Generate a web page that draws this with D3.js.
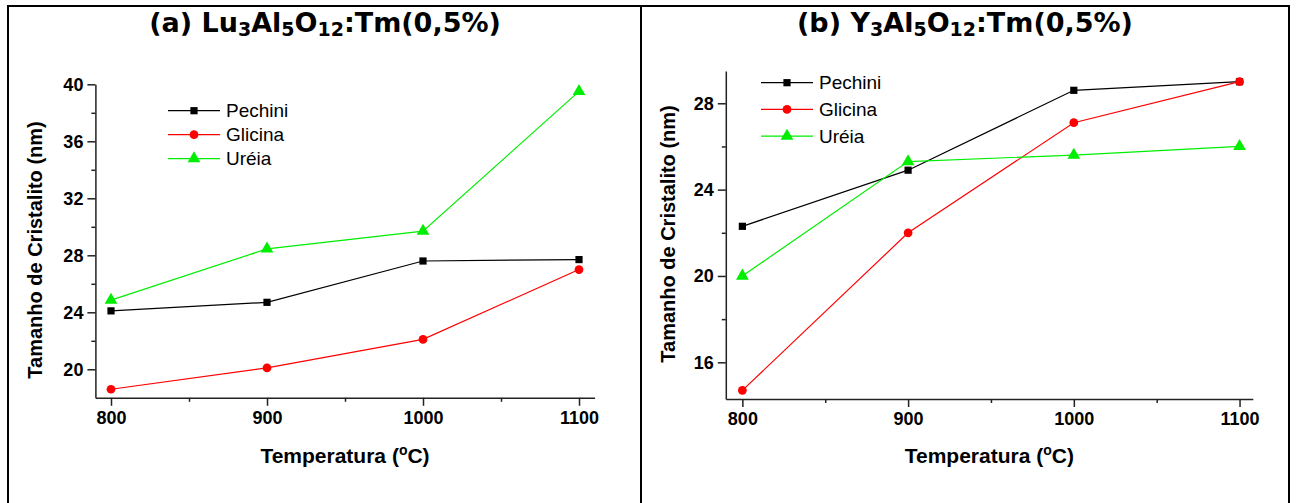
<!DOCTYPE html>
<html>
<head>
<meta charset="utf-8">
<script src="https://cdn.jsdelivr.net/npm/d3@7"></script>
<style>
  html, body { margin: 0; padding: 0; background: #fff; }
  svg { display: block; }
</style>
</head>
<body>
<svg id="chart" width="1296" height="503"></svg>
<script>
// ---------- data ----------
const temperatures = [800, 900, 1000, 1100];
const xTickValues = [800, 900, 1000, 1100];
const seriesNames = ["Pechini", "Glicina", "Uréia"];

// (a) Lu3Al5O12:Tm(0,5%)
const luPechini = [24.1, 24.7, 27.6, 27.7];
const luGlicina = [18.6, 20.1, 22.1, 27.0];
const luUreia   = [24.85, 28.45, 29.7, 39.5];
const luYTicks  = [20, 24, 28, 32, 36, 40];

// (b) Y3Al5O12:Tm(0,5%)
const yagPechini = [22.3, 24.9, 28.6, 29.0];
const yagGlicina = [14.7, 22.0, 27.1, 29.0];
const yagUreia   = [20.0, 25.3, 25.6, 26.0];
const yagYTicks  = [16, 20, 24, 28];

// ---------- styling ----------
const colors = ["#000000", "#ff0000", "#00ee00"];
const symbols = [d3.symbolSquare, d3.symbolCircle, d3.symbolTriangle];
const symbolSizes = [52, 60, 70];
const axisColor = "#222";
const svg = d3.select("#chart");

// outer frame
const frame = svg.append("g").attr("stroke", "#000").attr("stroke-width", 2).attr("fill", "none");
frame.append("path").attr("d", "M8,510 L8,6 L1289,6 L1289,510");
frame.append("path").attr("d", "M641,6 L641,510");

function panel(cfg) {
  const g = svg.append("g");
  const x = d3.scaleLinear().domain(cfg.xDomain).range(cfg.xRange);
  const y = d3.scaleLinear().domain(cfg.yDomain).range(cfg.yRange);

  // title with subscripts
  const t = g.append("text")
    .attr("x", cfg.titleX).attr("y", 32)
    .attr("text-anchor", "middle")
    .attr("font-family", "DejaVu Sans")
    .attr("font-weight", "bold")
    .attr("font-size", 27)
    .attr("fill", "#000");
  cfg.titleParts.forEach(p => {
    const ts = t.append("tspan").text(p.t);
    if (p.sub) ts.attr("font-size", 19).attr("dy", 4);
    else if (p.after) ts.attr("dy", -4);
  });

  // x axis
  const xAxis = d3.axisBottom(x).tickValues(xTickValues).tickFormat(d3.format("d"))
    .tickSize(8).tickPadding(5).tickSizeOuter(0);
  const xg = g.append("g").attr("transform", `translate(0,${cfg.yRange[0]})`).call(xAxis);
  const xMinor = d3.axisBottom(x).tickValues([850, 950, 1050]).tickSize(4).tickFormat("").tickSizeOuter(0);
  const xmg = g.append("g").attr("transform", `translate(0,${cfg.yRange[0]})`).call(xMinor);
  xmg.select(".domain").remove();

  // y axis
  const yAxis = d3.axisLeft(y).tickValues(cfg.yTicks).tickFormat(d3.format("d"))
    .tickSize(8).tickPadding(4).tickSizeOuter(0);
  const yg = g.append("g").attr("transform", `translate(${cfg.xRange[0]},0)`).call(yAxis);
  const yMinor = d3.axisLeft(y).tickValues(cfg.yTicks.map(v => v - 2).filter(v => v > cfg.yDomain[0]))
    .tickSize(4).tickFormat("").tickSizeOuter(0);
  const ymg = g.append("g").attr("transform", `translate(${cfg.xRange[0]},0)`).call(yMinor);
  ymg.select(".domain").remove();

  [xg, yg, xmg, ymg].forEach(a => {
    a.selectAll("path, line").attr("stroke", axisColor).attr("stroke-width", 1.5);
    a.selectAll("text")
      .attr("font-family", "Liberation Sans, Arial, sans-serif")
      .attr("font-weight", "bold")
      .attr("font-size", 18)
      .attr("fill", "#000");
  });

  // axis titles
  const xt = g.append("text")
    .attr("x", (cfg.xRange[0] + cfg.xRange[1]) / 2).attr("y", 463)
    .attr("text-anchor", "middle")
    .attr("font-family", "Liberation Sans, Arial, sans-serif")
    .attr("font-weight", "bold").attr("font-size", 21).attr("fill", "#000");
  xt.append("tspan").text("Temperatura (");
  xt.append("tspan").text("o").attr("font-size", 14).attr("dy", -8);
  xt.append("tspan").text("C)").attr("dy", 8);

  g.append("text")
    .attr("transform", `translate(${cfg.yTitleX},${cfg.yTitleY}) rotate(-90)`)
    .attr("text-anchor", "middle")
    .attr("dy", "0.35em")
    .attr("font-family", "Liberation Sans, Arial, sans-serif")
    .attr("font-weight", "bold").attr("font-size", 20).attr("fill", "#000")
    .text("Tamanho de Cristalito (nm)");

  // series
  const line = d3.line().x(d => x(d[0])).y(d => y(d[1]));
  cfg.series.forEach((vals, i) => {
    const pts = temperatures.map((tv, k) => [tv, vals[k]]);
    g.append("path").datum(pts)
      .attr("fill", "none").attr("stroke", colors[i]).attr("stroke-width", 1.2)
      .attr("d", line);
    g.selectAll(null).data(pts).enter().append("path")
      .attr("transform", d => `translate(${x(d[0])},${y(d[1])})`)
      .attr("d", d3.symbol().type(symbols[i]).size(symbolSizes[i]))
      .attr("fill", colors[i]);
  });

  // legend
  const lg = g.append("g");
  seriesNames.forEach((name, i) => {
    const ly = cfg.legendY + i * cfg.legendStep;
    lg.append("line")
      .attr("x1", cfg.legendX).attr("x2", cfg.legendX + 52)
      .attr("y1", ly).attr("y2", ly)
      .attr("stroke", colors[i]).attr("stroke-width", 1.2);
    lg.append("path")
      .attr("transform", `translate(${cfg.legendX + 26},${ly})`)
      .attr("d", d3.symbol().type(symbols[i]).size(symbolSizes[i]))
      .attr("fill", colors[i]);
    lg.append("text")
      .attr("x", cfg.legendX + 58).attr("y", ly).attr("dy", "0.35em")
      .attr("font-family", "Liberation Sans, Arial, sans-serif")
      .attr("font-size", 19).attr("fill", "#000")
      .text(name);
  });
}

panel({
  titleX: 325,
  titleParts: [{t: "(a) Lu"}, {t: "3", sub: true}, {t: "Al", after: true}, {t: "5", sub: true},
               {t: "O", after: true}, {t: "12", sub: true}, {t: ":Tm(0,5%)", after: true}],
  xDomain: [790, 1110], xRange: [95.4, 594.6],
  yDomain: [18, 40], yRange: [397.8, 84.3],
  yTicks: luYTicks,
  yTitleX: 35, yTitleY: 250,
  legendX: 168, legendY: 110.7, legendStep: 24,
  series: [luPechini, luGlicina, luUreia]
});

panel({
  titleX: 965,
  titleParts: [{t: "(b) Y"}, {t: "3", sub: true}, {t: "Al", after: true}, {t: "5", sub: true},
               {t: "O", after: true}, {t: "12", sub: true}, {t: ":Tm(0,5%)", after: true}],
  xDomain: [790, 1108], xRange: [725.8, 1252.8],
  yDomain: [14.3, 29.5], yRange: [399, 70.9],
  yTicks: yagYTicks,
  yTitleX: 668, yTitleY: 234,
  legendX: 761, legendY: 82.7, legendStep: 26.7,
  series: [yagPechini, yagGlicina, yagUreia]
});
</script>
</body>
</html>
